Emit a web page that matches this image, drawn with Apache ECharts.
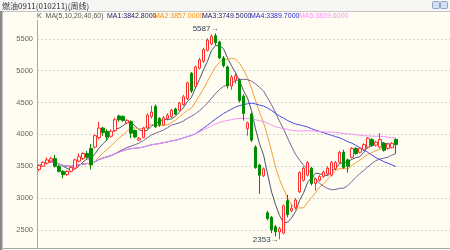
<!DOCTYPE html>
<html><head><meta charset="utf-8">
<script src="https://cdn.jsdelivr.net/npm/echarts@6/dist/echarts.min.js"></script>
<style>html,body{margin:0;padding:0;background:#fffcf2}#c{width:450px;height:250px}</style>
</head><body><div id="c"></div>
<script>
// Weekly OHLC
const opens  = [3450,3500,3550,3580,3620,3500,3420,3370,3420,3470,3580,3620,3700,3780,3800,3950,4100,4050,3970,4060,
                4290,4280,4180,4200,4060,3910,3950,4100,4280,4440,4250,4150,4250,4280,4400,4380,4470,4560,4960,4750,
                5040,5150,5320,5420,5550,5450,5200,5060,4760,4850,4850,4600,4090,4320,3800,3520,3350,2770,2700,2550,
                2470,2450,2960,2800,2850,3100,3280,3360,3470,3230,3280,3340,3380,3360,3460,3560,3720,3600,3640,3780,
                3720,3760,3800,3920,3830,3800,3860,3780,3790,3920];
const closes = [3510,3560,3600,3620,3500,3420,3370,3420,3480,3600,3650,3700,3640,3520,3980,4100,4030,3960,4050,4230,
                4230,4220,4220,4020,3960,3940,4100,4300,4350,4120,4150,4260,4300,4380,4320,4490,4590,4810,4680,5060,
                5170,5330,5480,5540,5440,5200,5080,4760,4900,4920,4530,4330,4180,3910,3480,3360,3460,2680,2500,2470,
                2520,2880,2740,2840,2970,3400,3470,3560,3230,3300,3340,3410,3470,3560,3560,3720,3480,3500,3780,3700,
                3780,3840,3940,3830,3880,3920,3750,3850,3860,3840];
const lows   = [3420,3490,3530,3560,3480,3400,3310,3350,3400,3460,3560,3600,3620,3450,3780,3920,3980,3900,3950,4040,
                4200,4200,4160,3940,3940,3900,3940,4080,4250,4100,4120,4140,4220,4260,4300,4360,4450,4540,4650,4720,
                5020,5120,5300,5400,5400,5180,5050,4720,4700,4800,4500,4220,3980,3880,3460,3070,3330,2650,2450,2400,
                2353,2430,2700,2780,2820,3080,3260,3340,3200,3120,3260,3320,3360,3340,3440,3540,3460,3400,3620,3680,
                3700,3740,3780,3810,3810,3780,3730,3760,3780,3700];
const highs  = [3530,3580,3640,3650,3680,3520,3440,3440,3500,3620,3700,3720,3740,3850,4000,4200,4120,4080,4080,4260,
                4310,4300,4240,4220,4080,3960,4120,4330,4450,4470,4270,4290,4330,4400,4420,4510,4620,4830,4980,5080,
                5200,5360,5510,5570,5587,5470,5230,5080,4930,4960,4880,4630,4200,4340,3830,3540,3480,2800,2720,2580,
                2550,2900,3050,2900,3000,3420,3500,3580,3490,3320,3360,3430,3500,3580,3580,3740,3760,3620,3800,3800,
                3800,3860,3960,3940,3900,4020,3880,3870,3880,3940];
const weeks = opens.map((_, i) => String(i + 1));
const yTicks = [2500, 3000, 3500, 4000, 4500, 5000, 5500];
const maPeriods = [5, 10, 20, 40, 60];
const maNames = ['MA1', 'MA2', 'MA3', 'MA4', 'MA5'];
const maLegendValues = ['3842.8000', '3857.0000', '3749.5000', '3389.7000', '3839.6000'];
const titleText = '燃油0911(010211)(周线)';
const legendHead = 'K  MA(5,10,20,40,60)';

const lineColors = ['#46566a', '#f0a040', '#7a6296', '#4a4ae2', '#f096f0'];
const legendColors = ['#202070', '#ff8a00', '#202070', '#2828d0', '#ff90ff'];

function movingAvg(p) {
  return closes.map((c, i) => {
    const s = Math.max(0, i - p + 1);
    let sum = 0;
    for (let k = s; k <= i; k++) sum += closes[k];
    return +(sum / (i - s + 1)).toFixed(1);
  });
}
const ohlc = opens.map((o, i) => [o, closes[i], lows[i], highs[i]]);
let hiIdx = 0, loIdx = 0;
highs.forEach((h, i) => { if (h > highs[hiIdx]) hiIdx = i; });
lows.forEach((l, i) => { if (l < lows[loIdx]) loIdx = i; });

const BG = '#fffcf2';
const chart = echarts.init(document.getElementById('c'));
const legendX = [107, 154, 202, 250, 299];
const frame = [
  {type:'rect', shape:{x:0,y:0,width:450,height:11}, style:{fill:'#f6f6f4'}, z:100},
  {type:'line', shape:{x1:0,y1:11.5,x2:450,y2:11.5}, style:{stroke:'#c4c4c4',lineWidth:1}, z:101},
  {type:'rect', shape:{x:0,y:12,width:450,height:8}, style:{fill:BG}, z:100},
  {type:'rect', shape:{x:0,y:11,width:2.5,height:239}, style:{fill:'#8a8a8a'}, z:101},
  {type:'line', shape:{x1:3,y1:248.5,x2:450,y2:248.5}, style:{stroke:'#a8a8a8',lineWidth:1}, z:101},
  {type:'rect', shape:{x:3,y:249,width:447,height:1}, style:{fill:BG}, z:100},
  {type:'rect', shape:{x:432.5,y:1.5,width:7,height:7,r:1}, style:{fill:'#d4e0f2',stroke:'#8aa4cc',lineWidth:1}, z:102},
  {type:'rect', shape:{x:440.5,y:1.5,width:7,height:7,r:1}, style:{fill:'#d4e0f2',stroke:'#8aa4cc',lineWidth:1}, z:102},
  {type:'text', x:2, y:5.5, style:{text:titleText, fill:'#333', font:'8px "Noto Sans CJK SC"', textVerticalAlign:'middle'}, z:102},
  {type:'text', x:37, y:16, style:{text:legendHead, fill:'#555', font:'7px "Liberation Sans"', textVerticalAlign:'middle'}, z:102}
];
maNames.forEach((n, k) => {
  frame.push({type:'text', x:legendX[k], y:16, style:{text:n + ':' + maLegendValues[k], fill:legendColors[k], font:'7px "Liberation Sans"', textVerticalAlign:'middle'}, z:102});
});

const series = [{
  type:'candlestick', data:ohlc, barWidth:3, z:5,
  itemStyle:{color:BG, color0:'#008c00', borderColor:'#ff3030', borderColor0:'#008c00', borderWidth:1}
}];
maPeriods.forEach((p, k) => {
  series.push({type:'line', name:maNames[k], data:movingAvg(p), showSymbol:false, symbol:'none', z:3,
    lineStyle:{color:lineColors[k], width:1}, silent:true});
});

chart.setOption({
  animation:false,
  backgroundColor:BG,
  grid:{left:37, right:0, top:7, height:254.8, outerBoundsMode:'none', containLabel:false},
  xAxis:{type:'category', data:weeks, max:102, boundaryGap:true,
    axisLine:{show:false}, axisTick:{show:false}, axisLabel:{show:false}, splitLine:{show:false}},
  yAxis:{type:'value', min:2000, max:6000, interval:500,
    axisLine:{show:true, lineStyle:{color:'#a8a8a8'}}, axisTick:{show:false},
    axisLabel:{color:'#666', fontSize:7.5, fontFamily:'Liberation Sans', margin:4,
      formatter:v => yTicks.includes(v) ? String(v) : ''},
    splitLine:{lineStyle:{color:'#d4d4cc', type:[2,2]}}},
  series:series,
  graphic:frame
});

// extreme-value annotations placed through the chart's own scales
const hiPt = chart.convertToPixel({seriesIndex:0}, [hiIdx, highs[hiIdx]]);
const loPt = chart.convertToPixel({seriesIndex:0}, [loIdx, lows[loIdx]]);
const notes = [
  {type:'text', x:hiPt[0] + 3, y:hiPt[1] - 5, style:{text:highs[hiIdx] + '→', fill:'#33435a', font:'8px "Liberation Sans"', textAlign:'right', textVerticalAlign:'middle'}, z:110},
  {type:'text', x:loPt[0] - 1, y:loPt[1], style:{text:lows[loIdx] + '→', fill:'#33435a', font:'8px "Liberation Sans"', textAlign:'right', textVerticalAlign:'middle'}, z:110}
];
chart.setOption({graphic:frame.concat(notes)});
</script></body></html>
